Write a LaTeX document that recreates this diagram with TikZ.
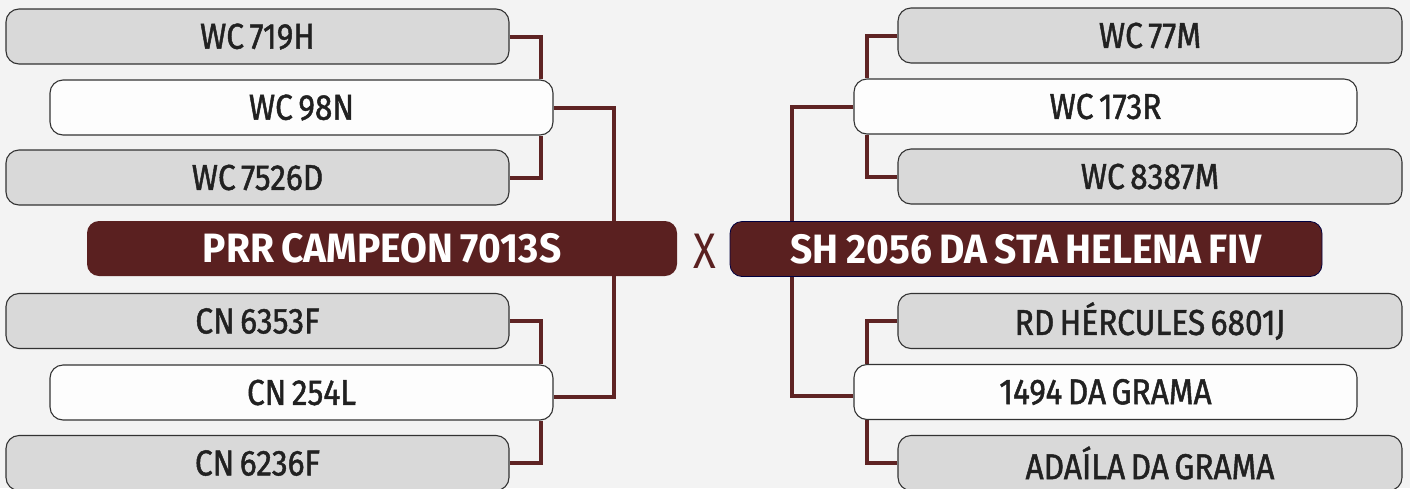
\documentclass[tikz,border=0pt]{standalone}
\usepackage{fontspec}
\setmainfont{Fira Sans}[FakeStretch=0.84]
\newfontfamily\lblfont{Fira Sans}[FakeStretch=0.88, FakeBold=1.3, WordSpace=0.65]
\newfontfamily\ttlfont{Fira Sans}[FakeStretch=0.95, WordSpace=0.8]
\pgfdeclarelayer{back}
\pgfsetlayers{back,main}
\definecolor{wine}{HTML}{5A2020}
\definecolor{wineline}{HTML}{5E2323}
\definecolor{boxgray}{HTML}{D9D9D9}
\definecolor{boxwhite}{HTML}{FDFDFD}
\definecolor{edge}{HTML}{333333}
\definecolor{bgc}{HTML}{F3F3F3}
\tikzset{
  gbox/.style={draw=edge, line width=1.1pt, fill=boxgray, rounded corners=13pt,
    minimum width=503pt, minimum height=55pt, inner sep=0pt, text=black!87,
    font=\lblfont\fontsize{36}{38}\selectfont},
  wbox/.style={gbox, fill=boxwhite},
  mainbox/.style={fill=wine, rounded corners=12pt, minimum height=55pt, inner sep=0pt,
    text=white, font=\ttlfont\bfseries\fontsize{41}{43}\selectfont},
  conn/.style={draw=wineline, line width=4pt}
}
\begin{document}
\begin{tikzpicture}[x=1pt,y=-1pt]
\useasboundingbox (0,0) rectangle (1410,488);
\begin{pgfonlayer}{back}
\fill[bgc] (0,0) rectangle (1410,488);
\end{pgfonlayer}
% left side
\node[gbox] (a1) at (257.5,36.5) {WC 719H};
\node[wbox] (a2) at (301.5,107.5) {WC 98N};
\node[gbox] (a3) at (257.5,177.5) {WC 7526D};
\node[mainbox, minimum width=590pt] (L) at (382,248.5) {PRR CAMPEON 7013S};
\node[gbox] (a4) at (257.5,321) {CN 6353F};
\node[wbox] (a5) at (301.5,392.5) {CN 254L};
\node[gbox] (a6) at (257.5,463) {CN 6236F};
% centre
\node[text=wine, font=\fontsize{50}{52}\selectfont] (vs) at (705,251) {X};
% right side
\node[gbox, minimum width=504pt] (b1) at (1150,35.5) {WC 77M};
\node[wbox] (b2) at (1105.5,106.5) {WC 173R};
\node[gbox, minimum width=504pt] (b3) at (1150,176.5) {WC 8387M};
\node[mainbox, minimum width=592pt, draw=blue!25!black, line width=0.8pt] (R) at (1026,249) {SH 2056 DA STA HELENA FIV};
\node[gbox, minimum width=504pt] (b4) at (1150,321) {RD HÉRCULES 6801J};
\node[wbox] (b5) at (1105.5,392) {1494 DA GRAMA};
\node[gbox, minimum width=504pt] (b6) at (1150,463) {ADAÍLA DA GRAMA};
% connector columns
\coordinate (xL) at (541,0);
\coordinate (xT) at (614,0);
\coordinate (xR) at (867,0);
\coordinate (xRT) at (792,0);
\begin{pgfonlayer}{back}
\draw[conn] (a1.east) -| (a2.north -| xL);
\draw[conn] (a2.south -| xL) |- (a3.east);
\draw[conn] (a2.east) -| (L.north -| xT);
\draw[conn] (L.south -| xT) |- ([yshift=-4pt]a5.east);
\draw[conn] (a4.east) -| (a5.north -| xL);
\draw[conn] (a5.south -| xL) |- (a6.east);
\draw[conn] (b1.west) -| (b2.north -| xR);
\draw[conn] (b2.south -| xR) |- (b3.west);
\draw[conn] (b2.west) -| (R.north -| xRT);
\draw[conn] (R.south -| xRT) |- ([yshift=-4pt]b5.west);
\draw[conn] (b4.west) -| (b5.north -| xR);
\draw[conn] (b5.south -| xR) |- (b6.west);
\end{pgfonlayer}
\end{tikzpicture}
\end{document}
